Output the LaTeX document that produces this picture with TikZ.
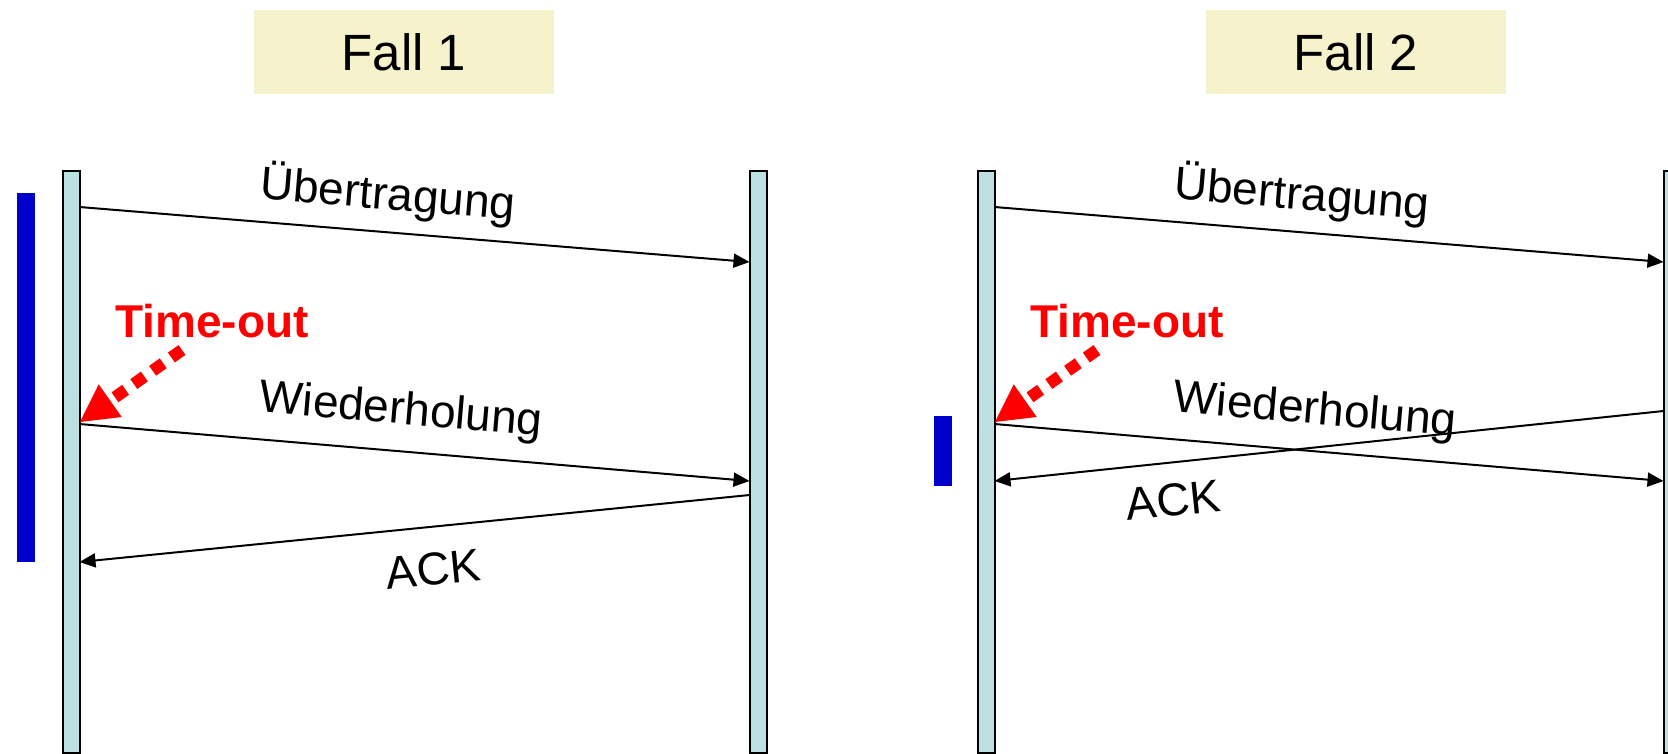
\documentclass[tikz,border=0pt]{standalone}
\usepackage{fontspec}
\setmainfont{Liberation Sans}
\usetikzlibrary{arrows.meta}
\definecolor{barfill}{RGB}{189,224,227}
\definecolor{blueb}{RGB}{0,0,204}
\definecolor{fallbg}{RGB}{246,242,204}
\begin{document}
\begin{tikzpicture}[x=1pt,y=-1pt,
  lane/.style={draw=black, line width=2pt, fill=barfill, minimum width=17pt, minimum height=582pt, inner sep=0pt, anchor=north},
  timer/.style={fill=blueb, inner sep=0pt, minimum width=18pt, anchor=north},
  casebox/.style={fill=fallbg, minimum width=300pt, minimum height=84pt, inner sep=0pt, font=\fontsize{51}{60}\selectfont},
  msg/.style={line width=2pt, -{Triangle[length=16pt,width=14pt]}},
  lbl/.style={font=\fontsize{46}{54}\selectfont, inner sep=0pt},
  tolbl/.style={font=\bfseries\fontsize{46}{54}\selectfont, text=red, inner sep=0pt},
  toarrow/.style={red, line width=12pt, dash pattern=on 13pt off 10pt, -{Triangle[length=37pt,width=40pt,line width=0pt]}}
]
\useasboundingbox (0,0) rectangle (1668,753);
% case headers
\node[casebox] (fall1) at (404,52) {Fall 1};
\node[casebox] (fall2) at (1356,52) {Fall 2};
% timer bars
\node[timer, minimum height=369pt] (t1) at (26,193) {};
\node[timer, minimum height=70pt] (t2) at (943,416) {};
% lanes
\node[lane] (s1) at (71,170) {};
\node[lane] (r1) at (758,170) {};
\node[lane] (s2) at (986,170) {};
\node[lane] (r2) at (1672,170) {};
% connector end points
\coordinate (u1a) at (79.5,207);
\coordinate (u1b) at (749.5,262);
\coordinate (w1a) at (79.5,424);
\coordinate (w1b) at (749.5,481);
\coordinate (a1a) at (749.5,495);
\coordinate (a1b) at (79.5,562);
\coordinate (u2a) at (994.5,207);
\coordinate (u2b) at (1663.5,262);
\coordinate (w2a) at (994.5,424);
\coordinate (w2b) at (1663.5,481);
\coordinate (a2a) at (1663.5,411);
\coordinate (a2b) at (994.5,481);
\coordinate (to1a) at (182,350);
\coordinate (to1b) at (80,422);
\coordinate (to2a) at (1097,350);
\coordinate (to2b) at (995,422);
% messages
\draw[msg] (u1a) -- (u1b);
\draw[msg] (w1a) -- (w1b);
\draw[msg] (a1a) -- (a1b);
\draw[msg] (u2a) -- (u2b);
\draw[msg] (w2a) -- (w2b);
\draw[msg] (a2a) -- (a2b);
% labels
\node[lbl, rotate=-4.7] (lu1) at (388,195) {Übertragung};
\node[lbl, rotate=-4.9] (lw1) at (401,412) {Wiederholung};
\node[lbl, rotate=5.7] (la1) at (433,569) {ACK};
\node[lbl, rotate=-4.7] (lu2) at (1302,195) {Übertragung};
\node[lbl, rotate=-4.9] (lw2) at (1315,412) {Wiederholung};
\node[lbl, rotate=6] (la2) at (1173,500) {ACK};
% time-outs
\node[tolbl] (to1) at (212,321) {Time-out};
\node[tolbl] (to2) at (1127,321) {Time-out};
\draw[toarrow] (to1a) -- (to1b);
\draw[toarrow] (to2a) -- (to2b);
\end{tikzpicture}
\end{document}
